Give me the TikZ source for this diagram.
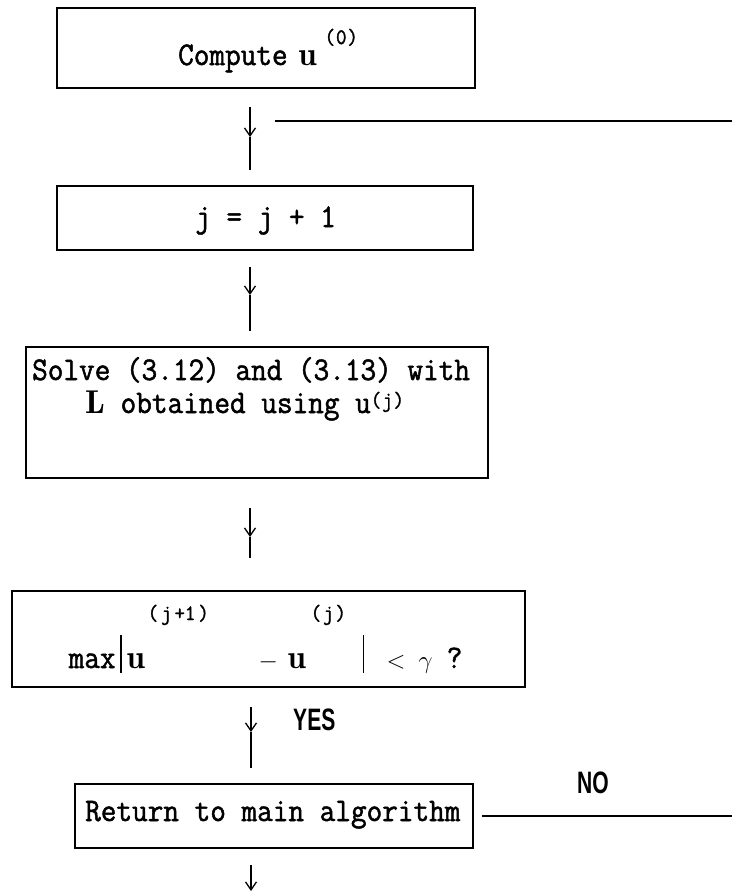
\documentclass[tikz,border=0pt]{standalone}
\usepackage{fontspec}
\usetikzlibrary{arrows.meta}
\newfontfamily\condsans[FakeStretch=0.68]{Liberation Sans}
\newfontfamily\tfont[FakeBold=1.5,FakeStretch=0.92]{Latin Modern Mono}
\newcommand\mainsz{\fontsize{33}{36}\selectfont\tfont}
\newcommand\supsz{\fontsize{22}{22}\selectfont\tfont}
\newcommand\putat[2]{\makebox[0pt][l]{\hspace*{#1}#2}}
\newcommand\vbar{\rule[-5pt]{1.8pt}{38pt}}
\tikzset{
  box/.style={draw, line width=1.6pt, inner sep=0pt},
  txt/.style={inner sep=0pt, font=\mainsz},
  lbl/.style={inner sep=0pt, font=\condsans\bfseries\fontsize{31}{31}\selectfont},
  arr/.style={line width=1.3pt, -{Straight Barb[length=8pt,width=11pt,line width=1.3pt]}},
  ln/.style={line width=1.3pt}
}
\begin{document}
\begin{tikzpicture}[x=1pt,y=-1pt]
\useasboundingbox (0,0) rectangle (732,895);
% boxes
\node[box, minimum width=418pt, minimum height=80pt] (b1) at (266,48) {};
\node[box, minimum width=416pt, minimum height=64pt] (b2) at (265,218) {};
\node[box, minimum width=462pt, minimum height=131pt] (b3) at (257,412.5) {};
\node[box, minimum width=513pt, minimum height=96pt] (b4) at (268.5,639) {};
\node[box, minimum width=398pt, minimum height=64pt] (b5) at (274,816) {};
% texts
\node[txt, anchor=base west] (t1) at (178,65) {Compute\hspace{-5pt} $\mathbf{u}$\hspace{8pt}\raisebox{21pt}{\supsz(\kern1pt0\kern1pt)}};
\node[txt, anchor=base west] (t2) at (195,227) {j = j + 1};
\node[txt, anchor=base west] (t3a) at (32,380) {Solve (3.12) and (3.13) with};
\node[txt, anchor=base west] (t3b) at (85,413) {$\mathbf{L}$ obtained using u\raisebox{6pt}{\supsz(\kern1pt j\kern1pt)}};
\node[txt, anchor=base west] (t4) at (68,668) {%
  \putat{0pt}{max}%
  \putat{51pt}{\vbar}%
  \putat{58pt}{$\mathbf{u}$}%
  \putat{79pt}{\raisebox{48pt}{\supsz(\kern3pt j\kern3pt+1\kern3pt)}}%
  \putat{190pt}{$-$}%
  \putat{219pt}{$\mathbf{u}$}%
  \putat{242pt}{\raisebox{48pt}{\supsz(\kern2pt j\kern2pt)}}%
  \putat{294pt}{\vbar}%
  \putat{318pt}{$<$}%
  \putat{350pt}{$\gamma$}%
  \putat{378pt}{?}};
\node[txt, anchor=base west] (t5) at (85,821) {Return to main algorithm};
\node[lbl, anchor=base west] (yes) at (293,730) {YES};
\node[lbl, anchor=base west] (no) at (577,793) {NO};
% connector points
\coordinate (a1s) at (250,107); \coordinate (a1t) at (250,137); \coordinate (a1e) at (250,170);
\coordinate (h1s) at (275,121); \coordinate (h1e) at (732,121);
\coordinate (a2s) at (250,267); \coordinate (a2t) at (250,295); \coordinate (a2e) at (250,331);
\coordinate (a3s) at (250,508); \coordinate (a3t) at (250,537); \coordinate (a3e) at (250,558);
\coordinate (a4s) at (251,707); \coordinate (a4t) at (251,732); \coordinate (a4e) at (251,768);
\coordinate (h2s) at (482,816); \coordinate (h2e) at (732,816);
\coordinate (a5s) at (251,865); \coordinate (a5t) at (251,891);
% connectors
\draw[arr] (a1s) -- (a1t); \draw[ln] (a1t) -- (a1e);
\draw[ln] (h1s) -- (h1e);
\draw[arr] (a2s) -- (a2t); \draw[ln] (a2t) -- (a2e);
\draw[arr] (a3s) -- (a3t); \draw[ln] (a3t) -- (a3e);
\draw[arr] (a4s) -- (a4t); \draw[ln] (a4t) -- (a4e);
\draw[ln] (h2s) -- (h2e);
\draw[arr] (a5s) -- (a5t);
\end{tikzpicture}
\end{document}
